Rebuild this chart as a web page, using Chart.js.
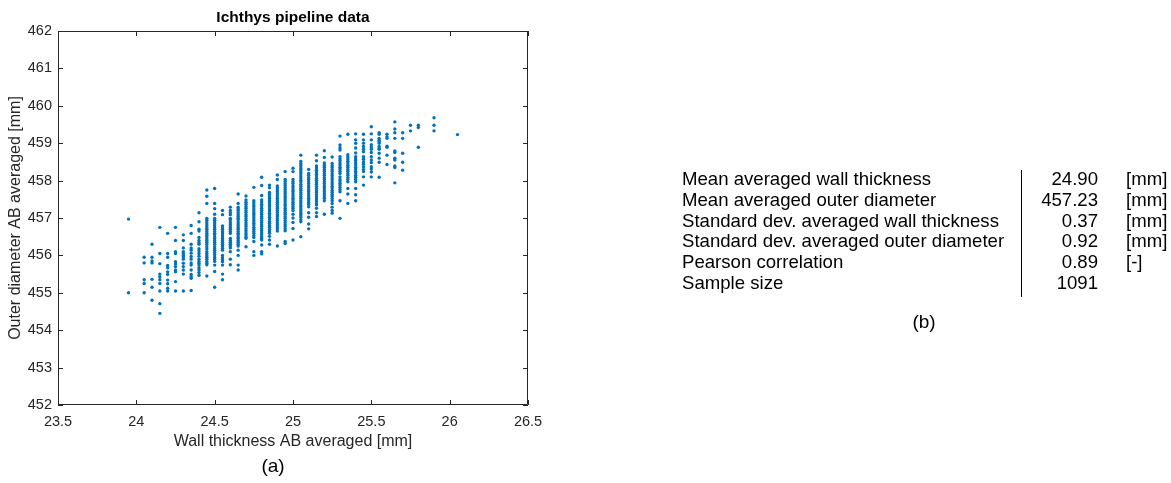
<!DOCTYPE html>
<html>
<head>
<meta charset="utf-8">
<script src="https://cdn.jsdelivr.net/npm/chart.js@4/dist/chart.umd.min.js"></script>
<style>
  body { margin: 0; background: #fff; }
  #wrap { position: relative; width: 1171px; height: 483px; font-family: "Liberation Sans", Arial, sans-serif; }
  #plot { position: absolute; left: 0; top: 0; }
  .cap { position: absolute; font-size: 19px; color: #000; transform: translateX(-50%); }
  .col { position: absolute; top: 169px; font-size: 18.6px; line-height: 20.8px; color: #000; white-space: nowrap; }
  #divider { position: absolute; left: 1021px; top: 170px; width: 1px; height: 127px; background: #000; }
</style>
</head>
<body>
<div id="wrap">
  <canvas id="plot" width="1171" height="483"></canvas>
  <div class="cap" style="left:273px; top:455px;">(a)</div>
  <div class="col" id="statLabels" style="left:682px;"></div>
  <div id="divider"></div>
  <div class="col" id="statValues" style="right:73px; text-align:right;"></div>
  <div class="col" id="statUnits" style="left:1126px;"></div>
  <div class="cap" style="left:924px; top:311px;">(b)</div>
</div>
<script>
// wall thickness columns (mm) and the outer diameters measured at each one (mm)
const thicknessSteps = [23.95, 24.05, 24.1, 24.15, 24.2, 24.25, 24.3, 24.35, 24.4, 24.45,
  24.5, 24.55, 24.6, 24.65, 24.7, 24.75, 24.8, 24.85, 24.9, 24.95,
  25.0, 25.05, 25.1, 25.15, 25.2, 25.25, 25.3, 25.35, 25.4, 25.45,
  25.5, 25.55, 25.6, 25.65, 25.7, 25.75, 25.8, 25.9, 26.05];

const diameterByStep = [
  [456.97, 455.0],
  [455.95, 455.8, 455.35, 455.25, 455.0],
  [456.3, 455.95, 455.85, 455.8, 455.36, 455.15, 454.8],
  [456.75, 456.05, 455.78, 455.5, 455.43, 455.35, 455.25, 455.05, 454.71, 454.45],
  [456.59, 456.05, 455.95, 455.73, 455.67, 455.56, 455.49, 455.34, 455.24, 455.12, 455.05],
  [456.75, 456.4, 456.1, 456.05, 455.83, 455.77, 455.7, 455.61, 455.56, 455.3, 455.05],
  [456.55, 456.4, 456.2, 456.1, 456.05, 456.0, 455.96, 455.9, 455.79, 455.7, 455.61, 455.5, 455.05],
  [456.8, 456.59, 456.3, 456.2, 456.14, 456.06, 455.97, 455.9, 455.8, 455.74, 455.61, 455.49, 455.43, 455.39, 455.06],
  [457.14, 456.9, 456.7, 456.65, 456.48, 456.4, 456.34, 456.3, 456.18, 456.12, 456.05, 455.98, 455.9, 455.84,
   455.79, 455.74, 455.67, 455.61, 455.54, 455.47],
  [457.75, 457.58, 457.39, 456.99, 456.94, 456.89, 456.84, 456.79, 456.74, 456.7, 456.64, 456.59, 456.54, 456.49,
   456.44, 456.4, 456.35, 456.3, 456.23, 456.17, 456.1, 456.05, 456.0, 455.95, 455.9, 455.84, 455.79, 455.75, 455.45],
  [457.79, 457.39, 457.25, 457.1, 456.99, 456.94, 456.89, 456.84, 456.79, 456.74, 456.7, 456.64, 456.59, 456.55,
   456.49, 456.45, 456.4, 456.35, 456.3, 456.23, 456.18, 456.14, 456.08, 456.02, 455.95, 455.9, 455.84, 455.74,
   455.57, 455.15],
  [457.2, 457.09, 456.79, 456.74, 456.7, 456.64, 456.6, 456.55, 456.49, 456.45, 456.4, 456.35, 456.3, 456.25,
   456.19, 456.14, 456.0, 455.94, 455.88, 455.83, 455.74, 455.5, 455.35],
  [457.29, 457.2, 457.14, 457.09, 456.99, 456.95, 456.89, 456.84, 456.79, 456.74, 456.7, 456.64, 456.59, 456.45,
   456.4, 456.35, 456.3, 456.25, 456.2, 456.1, 455.9, 455.75],
  [457.64, 457.39, 457.29, 457.24, 457.2, 457.14, 457.09, 457.04, 456.99, 456.95, 456.89, 456.84, 456.79, 456.74,
   456.7, 456.64, 456.59, 456.55, 456.49, 456.45, 456.4, 456.35, 456.3, 456.25, 456.14, 456.0, 455.74, 455.61],
  [457.59, 457.48, 457.42, 457.37, 457.31, 457.26, 457.2, 457.15, 457.09, 457.04, 456.98, 456.93, 456.87, 456.82,
   456.77, 456.71, 456.66, 456.6, 456.55, 456.5, 456.46, 456.23],
  [457.82, 457.46, 457.41, 457.35, 457.3, 457.24, 457.19, 457.13, 457.08, 457.03, 456.97, 456.92, 456.86, 456.81,
   456.75, 456.7, 456.64, 456.59, 456.53, 456.48, 456.37, 456.1, 456.0],
  [458.09, 457.87, 457.6, 457.48, 457.43, 457.37, 457.32, 457.26, 457.21, 457.15, 457.1, 457.04, 456.99, 456.93,
   456.88, 456.82, 456.77, 456.71, 456.66, 456.6, 456.55, 456.5, 456.45, 456.41, 456.28, 456.1, 456.04],
  [457.88, 457.81, 457.68, 457.63, 457.57, 457.52, 457.46, 457.41, 457.35, 457.3, 457.24, 457.19, 457.13, 457.08,
   457.02, 456.97, 456.91, 456.86, 456.8, 456.75, 456.69, 456.64, 456.59, 456.51, 456.41, 456.3],
  [458.15, 458.03, 457.86, 457.81, 457.75, 457.7, 457.64, 457.59, 457.53, 457.48, 457.42, 457.37, 457.31, 457.26,
   457.2, 457.15, 457.09, 457.04, 456.98, 456.93, 456.87, 456.82, 456.76, 456.71, 456.65, 456.25],
  [458.24, 458.03, 457.98, 457.92, 457.87, 457.81, 457.76, 457.7, 457.65, 457.59, 457.54, 457.48, 457.43, 457.37,
   457.32, 457.26, 457.21, 457.15, 457.1, 457.04, 456.99, 456.93, 456.88, 456.82, 456.77, 456.71, 456.66, 456.37, 456.32],
  [458.33, 458.24, 458.03, 457.97, 457.92, 457.86, 457.81, 457.75, 457.7, 457.64, 457.59, 457.53, 457.48, 457.42,
   457.37, 457.31, 457.26, 457.2, 457.1, 457.0, 456.88, 456.72, 456.41],
  [458.68, 458.51, 458.45, 458.4, 458.34, 458.29, 458.23, 458.18, 458.12, 458.07, 458.01, 457.96, 457.9, 457.85,
   457.79, 457.74, 457.68, 457.63, 457.57, 457.52, 457.46, 457.41, 457.35, 457.3, 457.24, 457.19, 457.13, 457.08,
   457.02, 456.95, 456.9, 456.5],
  [458.3, 458.19, 458.14, 458.08, 458.03, 457.97, 457.92, 457.86, 457.81, 457.75, 457.7, 457.64, 457.59, 457.53,
   457.48, 457.42, 457.37, 457.3, 457.14, 457.02, 456.84, 456.71],
  [458.68, 458.53, 458.39, 458.34, 458.28, 458.23, 458.17, 458.12, 458.06, 458.01, 457.95, 457.9, 457.84, 457.79,
   457.73, 457.68, 457.62, 457.57, 457.51, 457.46, 457.4, 457.35, 457.26, 457.14, 457.04],
  [458.8, 458.62, 458.47, 458.41, 458.36, 458.3, 458.25, 458.19, 458.14, 458.08, 458.03, 457.97, 457.92, 457.86,
   457.81, 457.75, 457.7, 457.64, 457.59, 457.53, 457.46, 457.1],
  [458.63, 458.46, 458.4, 458.35, 458.29, 458.24, 458.18, 458.13, 458.07, 458.02, 457.96, 457.91, 457.85, 457.8,
   457.74, 457.69, 457.63, 457.58, 457.52, 457.46, 457.39, 457.29, 457.2, 457.13],
  [459.19, 458.95, 458.88, 458.82, 458.64, 458.58, 458.53, 458.47, 458.42, 458.36, 458.31, 458.25, 458.19, 458.1,
   458.04, 457.99, 457.93, 457.88, 457.82, 457.76, 457.7, 457.46, 456.99],
  [459.24, 458.69, 458.63, 458.58, 458.52, 458.47, 458.41, 458.36, 458.3, 458.25, 458.19, 458.14, 458.08, 458.03,
   457.97, 457.79, 457.64, 457.39],
  [459.25, 459.09, 459.0, 458.87, 458.74, 458.64, 458.58, 458.53, 458.47, 458.42, 458.36, 458.31, 458.25, 458.2,
   458.14, 458.09, 458.03, 457.97, 457.79, 457.62, 457.46],
  [459.24, 459.09, 459.0, 458.91, 458.84, 458.77, 458.64, 458.57, 458.5, 458.44, 458.37, 458.3, 458.24, 458.1, 457.88],
  [459.44, 459.25, 459.09, 458.96, 458.9, 458.84, 458.75, 458.64, 458.55, 458.48, 458.37, 458.31, 458.23, 458.1],
  [459.28, 459.24, 459.13, 459.08, 459.04, 459.0, 458.91, 458.86, 458.84, 458.73, 458.6, 458.49, 458.09],
  [459.24, 459.17, 459.13, 458.92, 458.89, 458.68, 458.43],
  [459.57, 459.38, 459.28, 459.13, 458.79, 458.75, 458.6, 458.55, 458.39, 458.35, 457.94],
  [459.28, 459.13, 458.73, 458.49, 458.28],
  [459.48, 459.33],
  [459.48, 459.42, 458.89],
  [459.68, 459.48, 459.33],
  [459.23]
];

// summary table
const statLabels = ['Mean averaged wall thickness', 'Mean averaged outer diameter',
  'Standard dev. averaged wall thickness', 'Standard dev. averaged outer diameter',
  'Pearson correlation', 'Sample size'];
const statValues = ['24.90', '457.23', '0.37', '0.92', '0.89', '1091'];
const statUnits = ['[mm]', '[mm]', '[mm]', '[mm]', '[-]', ''];

document.getElementById('statLabels').innerHTML = statLabels.join('<br>');
document.getElementById('statValues').innerHTML = statValues.join('<br>');
document.getElementById('statUnits').innerHTML = statUnits.join('<br>');

const points = [];
thicknessSteps.forEach((t, i) => {
  diameterByStep[i].forEach(d => points.push({ x: t, y: d }));
});

const axisColor = '#262626';
Chart.defaults.font.family = '"Liberation Sans", Arial, sans-serif';
Chart.defaults.color = axisColor;

// box around the axes with inward tick marks on all four sides
const boxTicks = {
  id: 'boxTicks',
  afterDraw(chart) {
    const { ctx, chartArea: a, scales: { x, y } } = chart;
    ctx.save();
    ctx.strokeStyle = axisColor;
    ctx.lineWidth = 1;
    ctx.beginPath();
    ctx.rect(a.left + 0.5, a.top + 0.5, a.right - a.left - 1, a.bottom - a.top - 1);
    x.ticks.forEach(t => {
      const px = Math.round(x.getPixelForValue(t.value)) + 0.5;
      ctx.moveTo(px, a.bottom); ctx.lineTo(px, a.bottom - 5);
      ctx.moveTo(px, a.top); ctx.lineTo(px, a.top + 5);
    });
    y.ticks.forEach(t => {
      const py = Math.round(y.getPixelForValue(t.value)) + 0.5;
      ctx.moveTo(a.left, py); ctx.lineTo(a.left + 5, py);
      ctx.moveTo(a.right, py); ctx.lineTo(a.right - 5, py);
    });
    ctx.stroke();
    ctx.restore();
  }
};

new Chart(document.getElementById('plot'), {
  type: 'scatter',
  data: {
    datasets: [{
      data: points,
      backgroundColor: '#0072BD',
      borderWidth: 0,
      pointRadius: 1.7,
      pointHoverRadius: 1.7
    }]
  },
  options: {
    responsive: false,
    devicePixelRatio: 1,
    animation: false,
    layout: { padding: { left: 0, right: 643, top: 0, bottom: 0 } },
    plugins: {
      legend: { display: false },
      tooltip: { enabled: false },
      title: {
        display: true,
        fullSize: false,
        text: 'Ichthys pipeline data',
        color: '#000',
        font: { size: 15.5, weight: 'bold' },
        padding: { top: 8.5, bottom: 3.9 }
      }
    },
    scales: {
      x: {
        type: 'linear',
        min: 23.5,
        max: 26.5,
        grid: { display: false, drawTicks: false },
        border: { display: false },
        ticks: { stepSize: 0.5, padding: 8, font: { size: 14.5 }, maxRotation: 0, callback: v => String(+v) },
        title: {
          display: true,
          text: 'Wall thickness AB averaged [mm]',
          font: { size: 16 },
          padding: { top: 0, bottom: 31.6 }
        },
        afterFit(scale) { scale.height = 78; }
      },
      y: {
        min: 452,
        max: 462,
        grid: { display: false, drawTicks: false },
        border: { display: false },
        ticks: { stepSize: 1, padding: 6, font: { size: 14.5 }, callback: v => String(+v) },
        title: {
          display: true,
          text: 'Outer diameter AB averaged [mm]',
          font: { size: 16 },
          padding: { top: 5.5, bottom: 0 }
        },
        afterFit(scale) { scale.width = 58; }
      }
    }
  },
  plugins: [boxTicks]
});
</script>
</body>
</html>
